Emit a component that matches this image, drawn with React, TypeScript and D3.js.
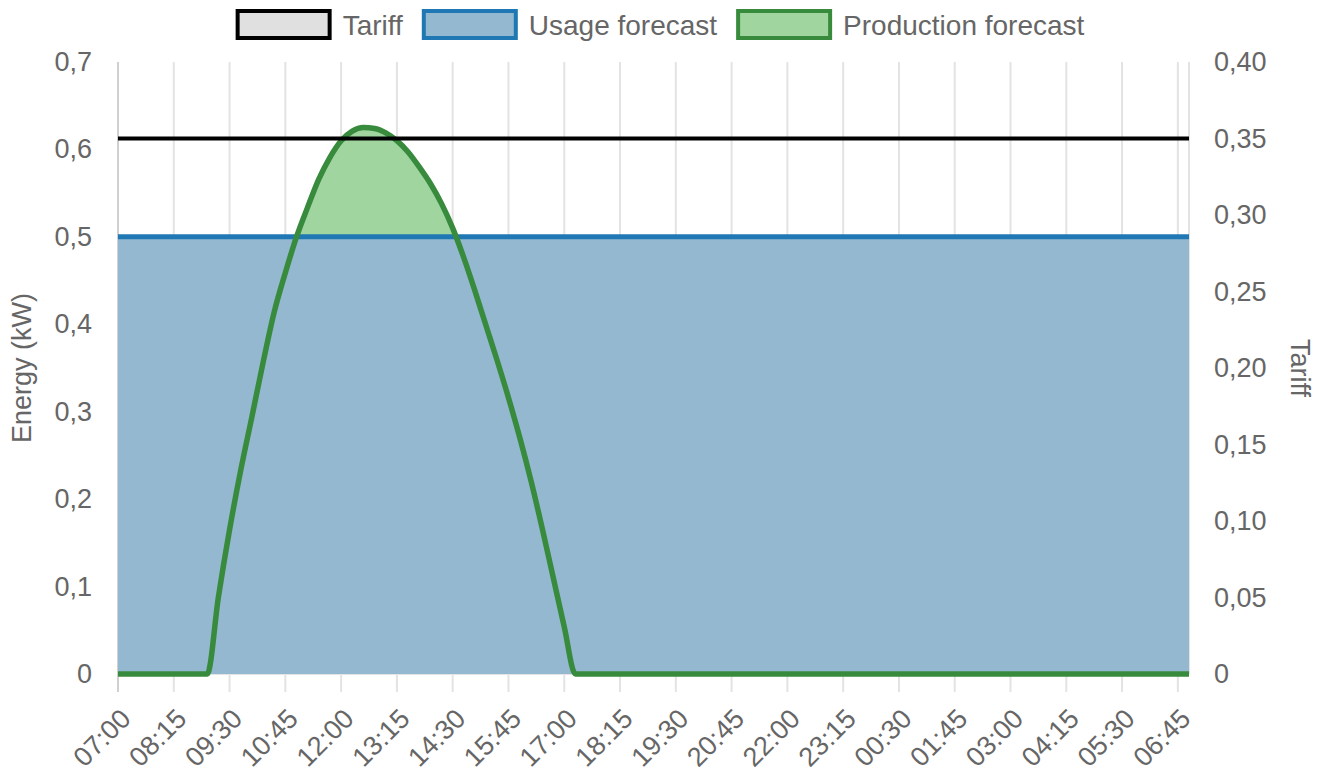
import React from "react";
import * as d3 from "d3";

// 97 quarter-hour slots from 07:00 to 07:00 next day
const tickLabels = [
  "07:00", "08:15", "09:30", "10:45", "12:00", "13:15", "14:30", "15:45", "17:00", "18:15",
  "19:30", "20:45", "22:00", "23:15", "00:30", "01:45", "03:00", "04:15", "05:30", "06:45",
];
const tickEvery = 5;
const slotCount = 97;

const tariff = [
  0.35, 0.35, 0.35, 0.35, 0.35, 0.35, 0.35, 0.35, 0.35, 0.35, 0.35, 0.35, 0.35, 0.35, 0.35, 0.35,
  0.35, 0.35, 0.35, 0.35, 0.35, 0.35, 0.35, 0.35, 0.35, 0.35, 0.35, 0.35, 0.35, 0.35, 0.35, 0.35,
  0.35, 0.35, 0.35, 0.35, 0.35, 0.35, 0.35, 0.35, 0.35, 0.35, 0.35, 0.35, 0.35, 0.35, 0.35, 0.35,
  0.35, 0.35, 0.35, 0.35, 0.35, 0.35, 0.35, 0.35, 0.35, 0.35, 0.35, 0.35, 0.35, 0.35, 0.35, 0.35,
  0.35, 0.35, 0.35, 0.35, 0.35, 0.35, 0.35, 0.35, 0.35, 0.35, 0.35, 0.35, 0.35, 0.35, 0.35, 0.35,
  0.35, 0.35, 0.35, 0.35, 0.35, 0.35, 0.35, 0.35, 0.35, 0.35, 0.35, 0.35, 0.35, 0.35, 0.35, 0.35,
  0.35,
];

const usageForecast = [
  0.5, 0.5, 0.5, 0.5, 0.5, 0.5, 0.5, 0.5, 0.5, 0.5, 0.5, 0.5, 0.5, 0.5, 0.5, 0.5,
  0.5, 0.5, 0.5, 0.5, 0.5, 0.5, 0.5, 0.5, 0.5, 0.5, 0.5, 0.5, 0.5, 0.5, 0.5, 0.5,
  0.5, 0.5, 0.5, 0.5, 0.5, 0.5, 0.5, 0.5, 0.5, 0.5, 0.5, 0.5, 0.5, 0.5, 0.5, 0.5,
  0.5, 0.5, 0.5, 0.5, 0.5, 0.5, 0.5, 0.5, 0.5, 0.5, 0.5, 0.5, 0.5, 0.5, 0.5, 0.5,
  0.5, 0.5, 0.5, 0.5, 0.5, 0.5, 0.5, 0.5, 0.5, 0.5, 0.5, 0.5, 0.5, 0.5, 0.5, 0.5,
  0.5, 0.5, 0.5, 0.5, 0.5, 0.5, 0.5, 0.5, 0.5, 0.5, 0.5, 0.5, 0.5, 0.5, 0.5, 0.5,
  0.5,
];

const productionForecast = [
  0, 0, 0, 0, 0, 0, 0, 0, 0,
  0.088, 0.165, 0.233, 0.294, 0.356, 0.414, 0.459, 0.5,
  0.534, 0.566, 0.591, 0.61, 0.621, 0.625, 0.624, 0.619,
  0.61, 0.597, 0.58, 0.561, 0.538, 0.51, 0.476, 0.438,
  0.398, 0.358, 0.316, 0.271, 0.222, 0.168, 0.111, 0.054,
  0, 0, 0, 0, 0, 0, 0, 0, 0, 0, 0, 0, 0, 0, 0, 0,
  0, 0, 0, 0, 0, 0, 0, 0, 0, 0, 0, 0, 0, 0, 0, 0,
  0, 0, 0, 0, 0, 0, 0, 0, 0, 0, 0, 0, 0, 0, 0, 0,
  0, 0, 0, 0, 0, 0, 0, 0,
];

const energyTicks = [0, 0.1, 0.2, 0.3, 0.4, 0.5, 0.6, 0.7];
const tariffTicks = [0, 0.05, 0.1, 0.15, 0.2, 0.25, 0.3, 0.35, 0.4];

const legendItems = [
  { label: "Tariff", fill: "#e0e0e0", stroke: "#000000" },
  { label: "Usage forecast", fill: "#94b8cf", stroke: "#1f77b4" },
  { label: "Production forecast", fill: "#a0d5a0", stroke: "#388a3c" },
];

const W = 1328;
const H = 771;
const M = { left: 118, right: 1189, top: 62, bottom: 674 };
const FONT = "'Liberation Sans', Arial, Helvetica, sans-serif";
const FS = 27;
const LFS = 28;
const TXT = "#666666";

export default function App() {
  const x = d3.scaleLinear().domain([0, slotCount - 1]).range([M.left, M.right]);
  const yE = d3.scaleLinear().domain([0, 0.7]).range([M.bottom, M.top]);
  const yT = d3.scaleLinear().domain([0, 0.4]).range([M.bottom, M.top]);
  const idx = d3.range(slotCount);

  const areaE = (vals: number[]) =>
    d3.area<number>().x((i) => x(i)).y0(yE(0)).y1((i) => yE(vals[i])).curve(d3.curveMonotoneX)(idx) || "";
  const lineE = (vals: number[]) =>
    d3.line<number>().x((i) => x(i)).y((i) => yE(vals[i])).curve(d3.curveMonotoneX)(idx) || "";
  const tariffPath =
    d3.line<number>().x((i) => x(i)).y((i) => yT(tariff[i])).curve(d3.curveMonotoneX)(idx) || "";

  const fmtE = (v: number) => (v === 0 ? "0" : d3.format(".1f")(v).replace(".", ","));
  const fmtT = (v: number) => (v === 0 ? "0" : d3.format(".2f")(v).replace(".", ","));

  // legend layout
  const boxW = 96;
  const boxH = 31;
  const gapBoxText = 11;
  const gapItems = 19;
  const widths = legendItems.map((d) => {
    const ctx = document.createElement("canvas").getContext("2d");
    if (ctx) {
      ctx.font = `${LFS}px ${FONT}`;
      return ctx.measureText(d.label).width;
    }
    return d.label.length * 13;
  });
  const totalW = widths.reduce((a, w) => a + boxW + gapBoxText + w, 0) + gapItems * (legendItems.length - 1);
  let lx = 660 - totalW / 2;
  const legendPos = legendItems.map((d, i) => {
    const p = lx;
    lx += boxW + gapBoxText + widths[i] + gapItems;
    return p;
  });

  return (
    <svg width={W} height={H} style={{ position: "absolute", left: 0, top: 0, background: "#fff" }} fontFamily={FONT}>
      {/* legend */}
      {legendItems.map((d, i) => (
        <g key={d.label}>
          <rect x={legendPos[i] + 2} y={9 + 2} width={boxW - 4} height={boxH - 4} fill={d.fill} stroke={d.stroke} strokeWidth={4} />
          <text x={legendPos[i] + boxW + gapBoxText} y={25} dominantBaseline="central" fontSize={LFS} fill={TXT}>
            {d.label}
          </text>
        </g>
      ))}

      {/* vertical grid + ticks */}
      {tickLabels.map((lab, k) => {
        const xi = x(k * tickEvery);
        return (
          <line key={"g" + lab} x1={xi} x2={xi} y1={M.top} y2={M.bottom + 18} stroke={k === 0 ? "#d0d0d0" : "#e3e3e3"} strokeWidth={2} />
        );
      })}
      <line x1={M.right} x2={M.right} y1={M.top} y2={M.bottom} stroke="#e3e3e3" strokeWidth={2} />
      <line x1={M.left} x2={M.right} y1={M.bottom} y2={M.bottom} stroke="#e3e3e3" strokeWidth={2} />

      {/* production fill then usage fill */}
      <path d={areaE(productionForecast)} fill="#a0d5a0" />
      <path d={areaE(usageForecast)} fill="#94b8cf" />
      <path d={lineE(usageForecast)} fill="none" stroke="#1f77b4" strokeWidth={5} />
      <path d={lineE(productionForecast)} fill="none" stroke="#388a3c" strokeWidth={5.5} strokeLinejoin="round" />
      <path d={tariffPath} fill="none" stroke="#000000" strokeWidth={4} />

      {/* left axis labels */}
      {energyTicks.map((v) => (
        <text key={"e" + v} x={92} y={yE(v)} textAnchor="end" dominantBaseline="central" fontSize={FS} fill={TXT}>
          {fmtE(v)}
        </text>
      ))}
      {/* right axis labels */}
      {tariffTicks.map((v) => (
        <text key={"t" + v} x={1214} y={yT(v)} textAnchor="start" dominantBaseline="central" fontSize={FS} fill={TXT}>
          {fmtT(v)}
        </text>
      ))}

      {/* x labels */}
      {tickLabels.map((lab, k) => {
        const xi = x(k * tickEvery) + 8;
        const yi = 714;
        return (
          <text key={"x" + lab} x={xi} y={yi} textAnchor="end" dominantBaseline="central" fontSize={FS} fill={TXT}
            transform={`rotate(-45 ${xi} ${yi})`}>
            {lab}
          </text>
        );
      })}

      {/* axis titles */}
      <text x={22} y={(M.top + M.bottom) / 2} textAnchor="middle" dominantBaseline="central" fontSize={FS} fill={TXT}
        transform={`rotate(-90 22 ${(M.top + M.bottom) / 2})`}>
        Energy (kW)
      </text>
      <text x={1300} y={(M.top + M.bottom) / 2} textAnchor="middle" dominantBaseline="central" fontSize={FS} fill={TXT}
        transform={`rotate(90 1300 ${(M.top + M.bottom) / 2})`}>
        Tariff
      </text>
    </svg>
  );
}
